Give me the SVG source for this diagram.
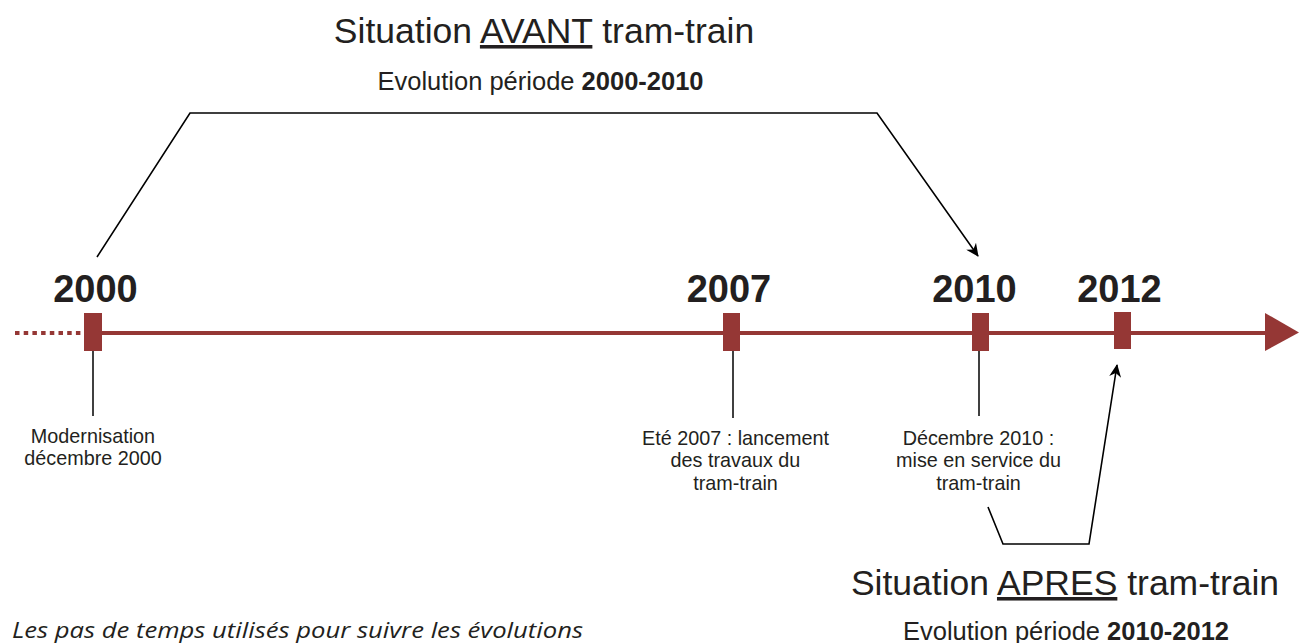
<svg xmlns="http://www.w3.org/2000/svg" width="1299" height="643" viewBox="0 0 1299 643">
  <defs>
    <marker id="arr" markerWidth="14" markerHeight="12" refX="12" refY="6" orient="auto" markerUnits="userSpaceOnUse">
      <path d="M0,0 L13,6 L0,12 L4,6 Z" fill="#000"/>
    </marker>
    <style>
      .sans { font-family: "Liberation Sans", Arial, sans-serif; fill: #231f20; }
      .year { font-size: 38px; font-weight: bold; text-anchor: middle; }
      .lbl { font-size: 19.8px; text-anchor: middle; }
      .title { font-size: 35.5px; text-anchor: middle; }
      .sub { font-size: 25.5px; text-anchor: middle; }
      .mark { fill: #953735; }
      .tick { stroke: #000; stroke-width: 1.5; fill: none; }
      .conn { stroke: #000; stroke-width: 1.6; fill: none; stroke-linejoin: miter; }
    </style>
  </defs>
  <rect width="1299" height="643" fill="#fff"/>

  <g id="timeline">
    <line x1="15" y1="333" x2="84" y2="333" stroke="#953735" stroke-width="4" stroke-dasharray="4.5 4.2"/>
    <line x1="100" y1="333" x2="1270" y2="333" stroke="#953735" stroke-width="4"/>
    <polygon points="1265,313 1299,332.5 1265,351" fill="#953735"/>
  </g>

  <g id="node-2000">
    <rect class="mark" x="84" y="313" width="18" height="38"/>
    <text class="sans year" x="95.5" y="302">2000</text>
    <line class="tick" x1="93" y1="351" x2="93" y2="416"/>
    <text class="sans lbl" x="93" y="443">Modernisation</text>
    <text class="sans lbl" x="93" y="465">décembre 2000</text>
  </g>

  <g id="node-2007">
    <rect class="mark" x="723" y="313" width="17" height="38"/>
    <text class="sans year" x="729" y="302">2007</text>
    <line class="tick" x1="733" y1="351" x2="733" y2="418"/>
    <text class="sans lbl" x="735.5" y="445">Eté 2007 : lancement</text>
    <text class="sans lbl" x="735.5" y="467">des travaux du</text>
    <text class="sans lbl" x="735.5" y="490">tram-train</text>
  </g>

  <g id="node-2010">
    <rect class="mark" x="972" y="313" width="17" height="38"/>
    <text class="sans year" x="974.5" y="302">2010</text>
    <line class="tick" x1="979" y1="351" x2="979" y2="416"/>
    <text class="sans lbl" x="978.5" y="445">Décembre 2010 :</text>
    <text class="sans lbl" x="978.5" y="467">mise en service du</text>
    <text class="sans lbl" x="978.5" y="490">tram-train</text>
  </g>

  <g id="node-2012">
    <rect class="mark" x="1114" y="312" width="17" height="37"/>
    <text class="sans year" x="1119.5" y="302">2012</text>
  </g>

  <g id="node-avant">
    <text class="sans title" x="544" y="43">Situation <tspan text-decoration="underline">AVANT</tspan> tram-train</text>
    <text class="sans sub" x="540.5" y="90">Evolution période <tspan font-weight="bold">2000-2010</tspan></text>
  </g>

  <g id="node-apres">
    <text class="sans title" x="1065" y="595">Situation <tspan text-decoration="underline">APRES</tspan> tram-train</text>
    <text class="sans sub" x="1066" y="640">Evolution période <tspan font-weight="bold">2010-2012</tspan></text>
  </g>

  <g id="node-note">
    <text x="12" y="638" font-family="'Open Sans', 'Noto Sans', sans-serif" font-style="italic" font-size="21.5" fill="#231f20" textLength="571" lengthAdjust="spacingAndGlyphs">Les pas de temps utilisés pour suivre les évolutions</text>
  </g>

  <g id="connectors">
    <polyline class="conn" points="97,257 190,113 877,113 978,256" marker-end="url(#arr)"/>
    <polyline class="conn" points="988,507 1003,544 1089,544 1117,365" marker-end="url(#arr)"/>
  </g>
</svg>
